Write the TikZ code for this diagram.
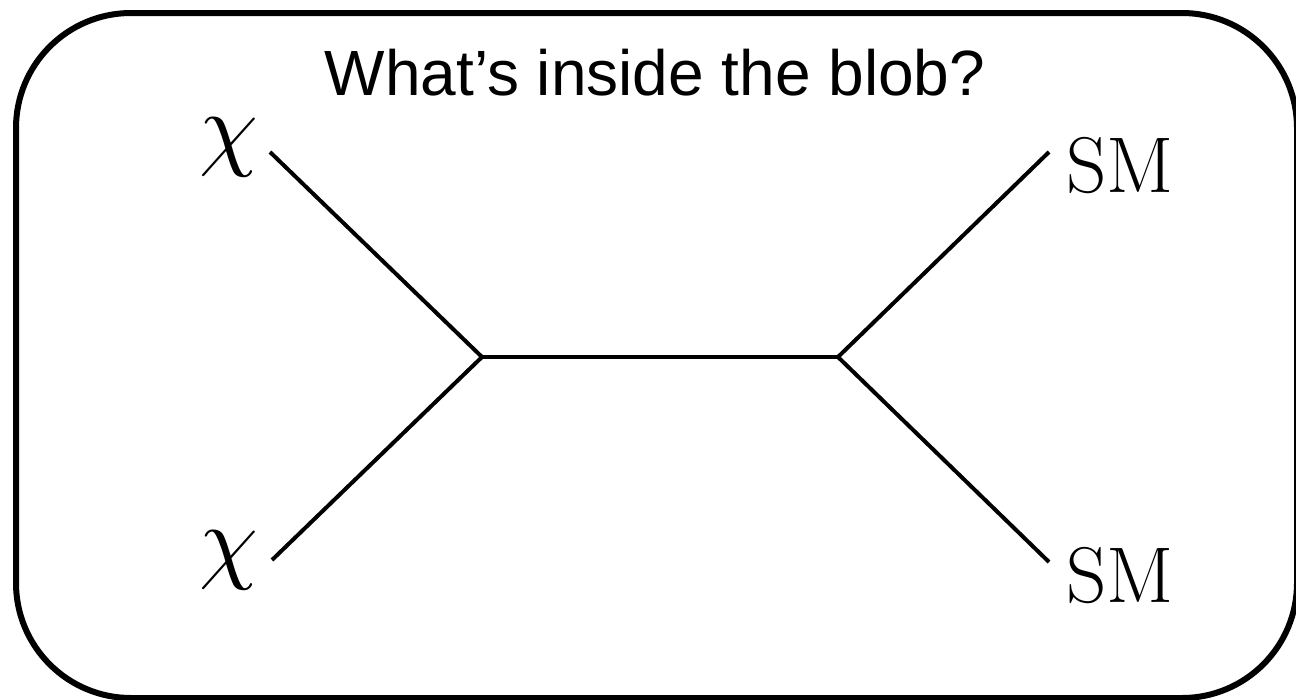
\documentclass[tikz,border=0pt]{standalone}
\usepackage{graphicx}
\usepackage{fontspec}
\newfontfamily\titlefont{Liberation Sans}
\begin{document}
\begin{tikzpicture}[x=1pt,y=-1pt,
  frame/.style={line width=6pt,rounded corners=115pt},
  leg/.style={line width=4pt},
  lbl/.style={anchor=base,inner sep=0pt,outer sep=0pt}]
\useasboundingbox (0,0) rectangle (1296,699);
\draw[frame] (16,13) rectangle (1297,698);
\node[lbl] (title) at (655,95) {\titlefont\fontsize{64}{70}\selectfont What’s inside the blob?};
\coordinate (vl) at (482,357);
\coordinate (vr) at (838,357);
\coordinate (a1) at (270,152);
\coordinate (a2) at (272,560);
\coordinate (b1) at (1049,152);
\coordinate (b2) at (1049,562);
\node[lbl] (chi1) at (229,158) {\scalebox{9.4}{$\chi$}};
\node[lbl] (chi2) at (229,571) {\scalebox{9.4}{$\chi$}};
\node[lbl] (sm1) at (1120,192) {\fontsize{79}{80}\selectfont$\mathrm{SM}$};
\node[lbl] (sm2) at (1120,602) {\fontsize{79}{80}\selectfont$\mathrm{SM}$};
\draw[leg] (a1) -- (vl) -- (a2);
\draw[leg] (vl) -- (vr);
\draw[leg] (b1) -- (vr) -- (b2);
\end{tikzpicture}
\end{document}
